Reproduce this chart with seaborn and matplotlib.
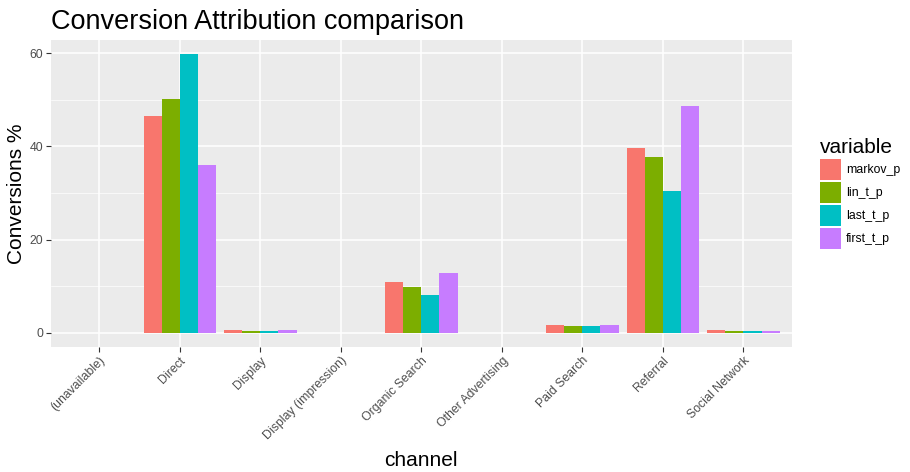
import pandas as pd
import matplotlib
matplotlib.use('Agg')
import matplotlib.pyplot as plt
import seaborn as sns
from matplotlib.ticker import MultipleLocator

# dados
canais = ['(unavailable)', 'Direct', 'Display', 'Display (impression)', 'Organic Search',
          'Other Advertising', 'Paid Search', 'Referral', 'Social Network']
variaveis = ['markov_p', 'lin_t_p', 'last_t_p', 'first_t_p']
markov_p = [0.0, 46.5, 0.6, 0.0, 10.9, 0.0, 1.7, 39.6, 0.6]
lin_t_p = [0.0, 50.1, 0.4, 0.0, 9.9, 0.0, 1.5, 37.8, 0.4]
last_t_p = [0.0, 59.8, 0.4, 0.0, 8.1, 0.0, 1.5, 30.4, 0.4]
first_t_p = [0.0, 36.0, 0.6, 0.0, 12.8, 0.0, 1.7, 48.6, 0.4]
cores = ['#F8766D', '#7CAE00', '#00BFC4', '#C77CFF']

df = pd.DataFrame({'channel': canais, 'markov_p': markov_p, 'lin_t_p': lin_t_p,
                   'last_t_p': last_t_p, 'first_t_p': first_t_p})
df_long = df.melt(id_vars='channel', value_vars=variaveis, var_name='variable', value_name='value')

sns.set_theme(style='darkgrid', rc={'axes.facecolor': '#EBEBEB', 'grid.color': 'white',
                                    'text.color': 'black', 'axes.labelcolor': 'black'})
plt.rcParams['font.family'] = ['Liberation Sans', 'DejaVu Sans']

fig = plt.figure(figsize=(9.1, 4.72), dpi=100)
ax = fig.add_axes([0.056, 0.265, 0.814, 0.650])

sns.barplot(data=df_long, x='channel', y='value', hue='variable', order=canais,
            hue_order=variaveis, palette=cores, width=0.9, gap=0, saturation=1,
            edgecolor='none', linewidth=0, ax=ax, zorder=3)

ax.set_xlim(-0.6, len(canais) - 0.4)
ax.set_ylim(-3.0, 62.8)
ax.yaxis.set_major_locator(MultipleLocator(20))
ax.yaxis.set_minor_locator(MultipleLocator(10))
ax.grid(which='major', color='white', linewidth=1.1)
ax.grid(which='minor', axis='y', color='white', linewidth=0.5)
ax.set_axisbelow(True)
for s in ax.spines.values():
    s.set_visible(False)

ax.tick_params(axis='both', which='major', length=3.5, width=0.8, color='#333333',
               labelsize=8.8, labelcolor='#4D4D4D', pad=2, bottom=True, left=True)
ax.tick_params(which='minor', length=0)
plt.setp(ax.get_xticklabels(), rotation=45, ha='right', rotation_mode='anchor')

ax.set_title('Conversion Attribution comparison', fontsize=19.5, loc='left', x=0, pad=8,
             color='black')
ax.set_xlabel('channel', fontsize=15, labelpad=6, color='black')
ax.set_ylabel('Conversions %', fontsize=15, labelpad=3, color='black')

leg = ax.legend(title='variable', bbox_to_anchor=(1.032, 0.5), loc='center left',
                frameon=False, fontsize=8.8, title_fontsize=15, handlelength=1.72,
                handleheight=2.27, handletextpad=0.4, labelspacing=0.15, borderaxespad=0)
leg._legend_box.align = 'left'
for t in leg.get_texts():
    t.set_color('black')
leg.get_title().set_color('black')

plt.savefig('out.png', dpi=100)
